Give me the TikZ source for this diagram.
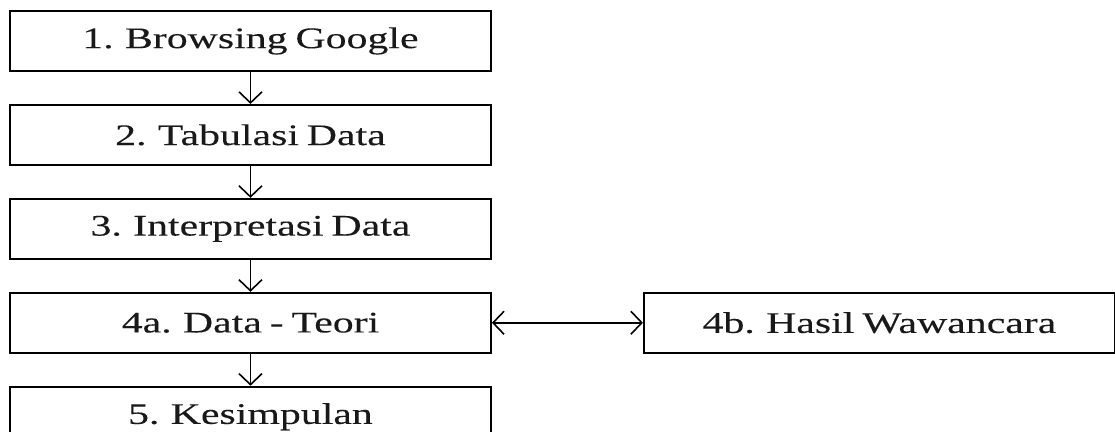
\documentclass[tikz,border=0pt]{standalone}
\usepackage{fontspec}
\setmainfont{Liberation Serif}[FakeStretch=1.4, WordSpace=0.75, FakeBold=0.15]
\usepackage{tikz}
\usetikzlibrary{positioning}
\usetikzlibrary{arrows.meta}

\begin{document}
\begin{tikzpicture}
		[step box/.style={rectangle, draw=black, line width=1.1pt, minimum width=9.62cm, minimum height=1.2cm, inner sep=0pt, font=\fontsize{17}{20}\selectfont, text=black!90, node distance=0.64cm},
		barb/.tip={Straight Barb[length=2.2mm,width=4.6mm]},
		flow/.style={-barb, line width=0.9pt}]
		\useasboundingbox (0,0) rectangle (22.3,-8.62);
		\node[step box, anchor=north west] (b1) at (0.18,-0.2) {1. Browsing Google};
		\node[step box, below=of b1] (b2) {2. Tabulasi Data};
		\node[step box, below=of b2] (b3) {3. Interpretasi Data};
		\node[step box, below=of b3] (b4a) {4a. Data - Teori};
		\node[step box, below=of b4a] (b5) {5. Kesimpulan};
		\node[step box, right=3.02cm of b4a, minimum width=9.42cm] (b4b) {4b. Hasil Wawancara};

		\draw[flow] (b1) to (b2);
		\draw[flow] (b2) to (b3);
		\draw[flow] (b3) to (b4a);
		\draw[flow] (b4a) to (b5);
		\draw[flow, barb-barb] (b4a) to (b4b);
	\end{tikzpicture}
\end{document}
